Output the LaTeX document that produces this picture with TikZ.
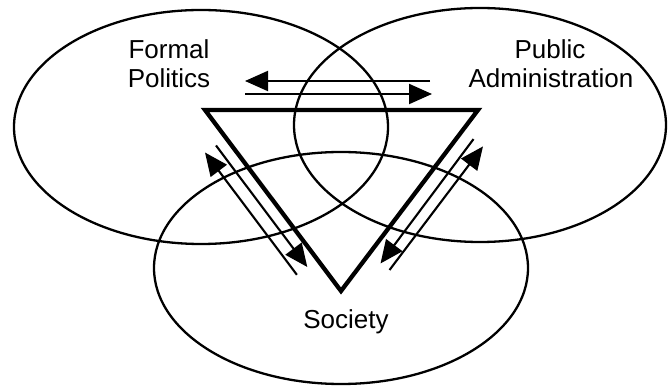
\documentclass[tikz,border=0pt]{standalone}
\usepackage{fontspec}
\setmainfont{Liberation Sans}
\usetikzlibrary{arrows.meta}
\begin{document}
\begin{tikzpicture}[x=1pt,y=-1pt,
 ell/.style={draw,line width=2.3pt},
 lbl/.style={font=\fontsize{26}{30}\selectfont, inner sep=0pt, anchor=base},
 arr/.style={line width=2.1pt,-{Triangle[length=23pt,width=20pt]}},
 tri/.style={line width=4.3pt, line join=miter}]
\useasboundingbox (0,0) rectangle (670,387);
% circles of the three spheres
\draw[ell] (201,127) ellipse [x radius=187pt, y radius=117pt];
\draw[ell] (480,125) ellipse [x radius=186pt, y radius=117pt];
\draw[ell] (341,268) ellipse [x radius=187pt, y radius=116pt];
% labels
\node[lbl] (fp1) at (169,59) {Formal};
\node[lbl] (fp2) at (169,88) {Politics};
\node[lbl] (pa1) at (550,59) {Public};
\node[lbl] (pa2) at (551,88) {Administration};
\node[lbl] (soc) at (346,329) {Society};
% triangle
\coordinate (t1) at (205,110);
\coordinate (t2) at (478,110);
\coordinate (t3) at (341,291);
\draw[tri] (t1) -- (t2) -- (t3) -- cycle;
% top arrows
\coordinate (ua1) at (430,81);
\coordinate (ua2) at (245,81);
\coordinate (la1) at (245,94);
\coordinate (la2) at (432,94);
\draw[arr] (ua1) -- (ua2);
\draw[arr] (la1) -- (la2);
% left arrows
\coordinate (a1) at (216,145.5);
\coordinate (a2) at (307.3,267);
\coordinate (b1) at (296.9,274.8);
\coordinate (b2) at (205,152.5);
\draw[arr] (a1) -- (a2);
\draw[arr] (b1) -- (b2);
% right arrows
\coordinate (c1) at (473.5,139.1);
\coordinate (c2) at (380.5,263.5);
\coordinate (d1) at (389.5,270);
\coordinate (d2) at (483,146.4);
\draw[arr] (c1) -- (c2);
\draw[arr] (d1) -- (d2);
\end{tikzpicture}
\end{document}
